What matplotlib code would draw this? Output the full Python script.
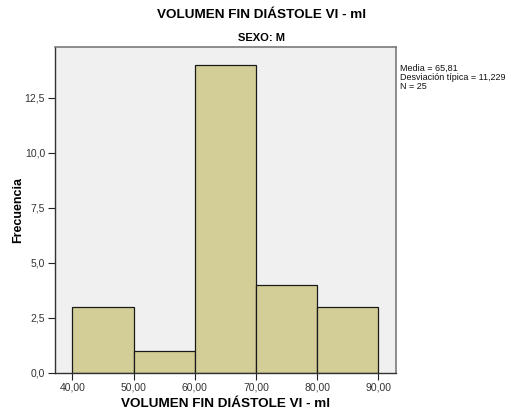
import matplotlib
matplotlib.use("Agg")
import matplotlib.pyplot as plt

# Histogram bins (left edges, width) and counts
bin_edges = [40, 50, 60, 70, 80, 90]
counts = [3, 1, 14, 4, 3]

x_ticks = [40, 50, 60, 70, 80, 90]
x_tick_labels = ["40,00", "50,00", "60,00", "70,00", "80,00", "90,00"]
y_ticks = [0.0, 2.5, 5.0, 7.5, 10.0, 12.5]
y_tick_labels = ["0,0", "2,5", "5,0", "7,5", "10,0", "12,5"]

title = "VOLUMEN FIN DIÁSTOLE VI - ml"
subtitle = "SEXO: M"
x_label = "VOLUMEN FIN DIÁSTOLE VI - ml"
y_label = "Frecuencia"
stats_lines = ["Media = 65,81", "Desviación típica = 11,229", "N = 25"]

plt.rcParams["font.family"] = ["Liberation Sans", "DejaVu Sans"]

fig = plt.figure(figsize=(5.14, 4.17), dpi=100)
fig.patch.set_facecolor("white")
ax = fig.add_axes([0.1064, 0.1062, 0.6634, 0.7811])
ax.set_facecolor("#F0F0F0")

lefts = bin_edges[:-1]
widths = [b - a for a, b in zip(bin_edges[:-1], bin_edges[1:])]
ax.bar(lefts, counts, width=widths, align="edge", color="#D3CE97",
       edgecolor="#1a1a1a", linewidth=0.9, zorder=2)

ax.set_xlim(37.12, 92.84)
ax.set_ylim(0, 14.8)

ax.set_xticks(x_ticks)
ax.set_xticklabels(x_tick_labels)
ax.set_yticks(y_ticks)
ax.set_yticklabels(y_tick_labels)
ax.tick_params(axis="both", direction="out", length=5, width=0.8,
               colors="#222222", labelsize=7.5, labelcolor="#333333", pad=2)

for side in ["top", "right"]:
    ax.spines[side].set_color("#7a7a7a")
    ax.spines[side].set_linewidth(1.2)
for side in ["left", "bottom"]:
    ax.spines[side].set_color("#333333")
    ax.spines[side].set_linewidth(1.0)

ax.set_xlabel(x_label, fontsize=9.7, fontweight="bold")
ax.set_ylabel(y_label, fontsize=9, fontweight="bold")
ax.xaxis.set_label_coords(0.5, -0.096)
ax.yaxis.set_label_coords(-0.1076, 0.5)
ax.xaxis.label.set_va("center")
ax.yaxis.label.set_va("center")

fig.text(262 / 514, 1 - 15 / 417, title, ha="center", va="center",
         fontsize=9.7, fontweight="bold")
fig.text(262 / 514, 1 - 38 / 417, subtitle, ha="center", va="center",
         fontsize=8, fontweight="bold")

fig.text(400 / 514, 1 - 64 / 417, "\n".join(stats_lines), ha="left", va="top",
         fontsize=6.5, linespacing=1.0, color="#111111")

fig.savefig("out.png", dpi=100)
